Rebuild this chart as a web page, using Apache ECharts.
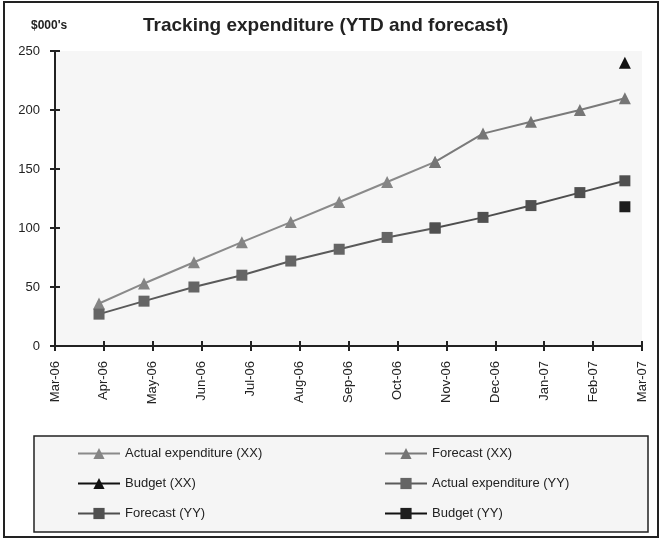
<!DOCTYPE html>
<html>
<head>
<meta charset="utf-8">
<script src="https://cdn.jsdelivr.net/npm/echarts@6/dist/echarts.min.js"></script>
<style>
html,body{margin:0;padding:0;background:#fff;}
#chart{width:661px;height:540px;}
</style>
</head>
<body>
<div id="chart"></div>
<script>
// Tick labels on the x axis (month boundaries)
const tickLabels = ['Mar-06','Apr-06','May-06','Jun-06','Jul-06','Aug-06','Sep-06','Oct-06','Nov-06','Dec-06','Jan-07','Feb-07','Mar-07'];
// Position of each data point, in months after Mar-06
const pointMonths = [0.90, 1.82, 2.84, 3.82, 4.82, 5.81, 6.79, 7.77, 8.75, 9.73, 10.73, 11.65];
// Expenditure XX ($000's)
const actualXX   = [36, 53, 71, 88, 105, 122, 139, 156, null, null, null, null];
const forecastXX = [null, null, null, null, null, null, null, 156, 180, 190, 200, 210];
// Expenditure YY ($000's)
const actualYY   = [27, 38, 50, 60, 72, 82, 92, 100, null, null, null, null];
const forecastYY = [null, null, null, null, null, null, null, 100, 109, 119, 130, 140];
// Budgets (single point at the year end)
const budgetXX = [null, null, null, null, null, null, null, null, null, null, null, 240];
const budgetYY = [null, null, null, null, null, null, null, null, null, null, null, 118];
const yTicks = [0, 50, 100, 150, 200, 250];

const FONT = 'Liberation Sans, Arial, sans-serif';
function pairs(vals){ return vals.map((v,i)=>[pointMonths[i], v]); }

function lineSeries(name, vals, lineColor, markColor, symbol){
  return {
    name: name, type: 'line', data: pairs(vals),
    symbol: symbol, symbolSize: symbol === 'triangle' ? 12 : 11, connectNulls: false,
    lineStyle: {color: lineColor, width: 2},
    itemStyle: {color: markColor},
    emphasis: {disabled: true},
    animation: false,
    xAxisIndex: 0, yAxisIndex: 0
  };
}

const chart = echarts.init(document.getElementById('chart'), null, {renderer: 'canvas'});
const grid = {left: 55, right: 19, top: 51, bottom: 194, show: true, backgroundColor: '#f6f6f6', borderWidth: 0, containLabel: false};

const xBase = {
  type: 'value', min: 0, max: 12, interval: 1, position: 'bottom', gridIndex: 0,
  splitLine: {show: false},
  axisLine: {show: true, onZero: false, lineStyle: {color: '#222', width: 2}}
};
const yBase = {
  type: 'value', min: 0, max: 250, interval: 50, position: 'left', gridIndex: 0,
  splitLine: {show: false},
  axisLine: {show: true, lineStyle: {color: '#222', width: 2}}
};
const legendCommon = {
  orient: 'vertical', top: 447, padding: 0, itemGap: 17,
  itemWidth: 42, itemHeight: 14,
  lineStyle: {width: 2},
  textStyle: {fontFamily: FONT, fontSize: 13, color: '#222'},
  selectedMode: false
};

const option = {
  animation: false,
  backgroundColor: '#fff',
  title: {
    text: 'Tracking expenditure (YTD and forecast)',
    left: 143, top: 16, padding: 0,
    textStyle: {fontFamily: FONT, fontSize: 19, fontWeight: 'bold', color: '#222'}
  },
  grid: grid,
  xAxis: [
    Object.assign({}, xBase, {
      axisTick: {show: true, inside: false, length: 5, lineStyle: {color: '#222', width: 2}},
      axisLabel: {show: true, rotate: 90, margin: 15, fontFamily: FONT, fontSize: 13, color: '#222',
        formatter: v => tickLabels[Math.round(v)] || ''}
    }),
    Object.assign({}, xBase, {
      axisTick: {show: true, inside: true, length: 5, lineStyle: {color: '#222', width: 2}},
      axisLabel: {show: false}
    })
  ],
  yAxis: [
    Object.assign({}, yBase, {
      axisTick: {show: true, inside: false, length: 5, lineStyle: {color: '#222', width: 2}},
      axisLabel: {show: true, margin: 15, fontFamily: FONT, fontSize: 13, color: '#222',
        formatter: v => (yTicks.indexOf(v) >= 0 ? String(v) : '')}
    }),
    Object.assign({}, yBase, {
      axisTick: {show: true, inside: true, length: 5, lineStyle: {color: '#222', width: 2}},
      axisLabel: {show: false}
    })
  ],
  legend: [
    Object.assign({}, legendCommon, {left: 77,
      data: ['Actual expenditure (XX)', 'Budget (XX)', 'Forecast (YY)']}),
    Object.assign({}, legendCommon, {left: 384,
      data: ['Forecast (XX)', 'Actual expenditure (YY)', 'Budget (YY)']})
  ],
  graphic: [
    {type: 'rect', z: -10, silent: true, shape: {x: 4, y: 2, width: 654, height: 535},
      style: {fill: 'none', stroke: '#222', lineWidth: 2}},
    {type: 'rect', z: -5, silent: true, shape: {x: 34, y: 436, width: 614, height: 96},
      style: {fill: '#f5f5f5', stroke: '#222', lineWidth: 1.5}},
    {type: 'text', silent: true, x: 31, y: 26,
      style: {text: "$000's", fontFamily: FONT, fontSize: 12, fontWeight: 'bold', fill: '#222', verticalAlign: 'middle'}}
  ],
  series: [
    lineSeries('Actual expenditure (XX)', actualXX, '#8a8a8a', '#858585', 'triangle'),
    lineSeries('Forecast (XX)', forecastXX, '#7a7a7a', '#767676', 'triangle'),
    lineSeries('Budget (XX)', budgetXX, '#111', '#111', 'triangle'),
    lineSeries('Actual expenditure (YY)', actualYY, '#5a5a5a', '#656565', 'rect'),
    lineSeries('Forecast (YY)', forecastYY, '#4e4e4e', '#505050', 'rect'),
    lineSeries('Budget (YY)', budgetYY, '#111', '#1e1e1e', 'rect')
  ]
};
chart.setOption(option);
</script>
</body>
</html>
